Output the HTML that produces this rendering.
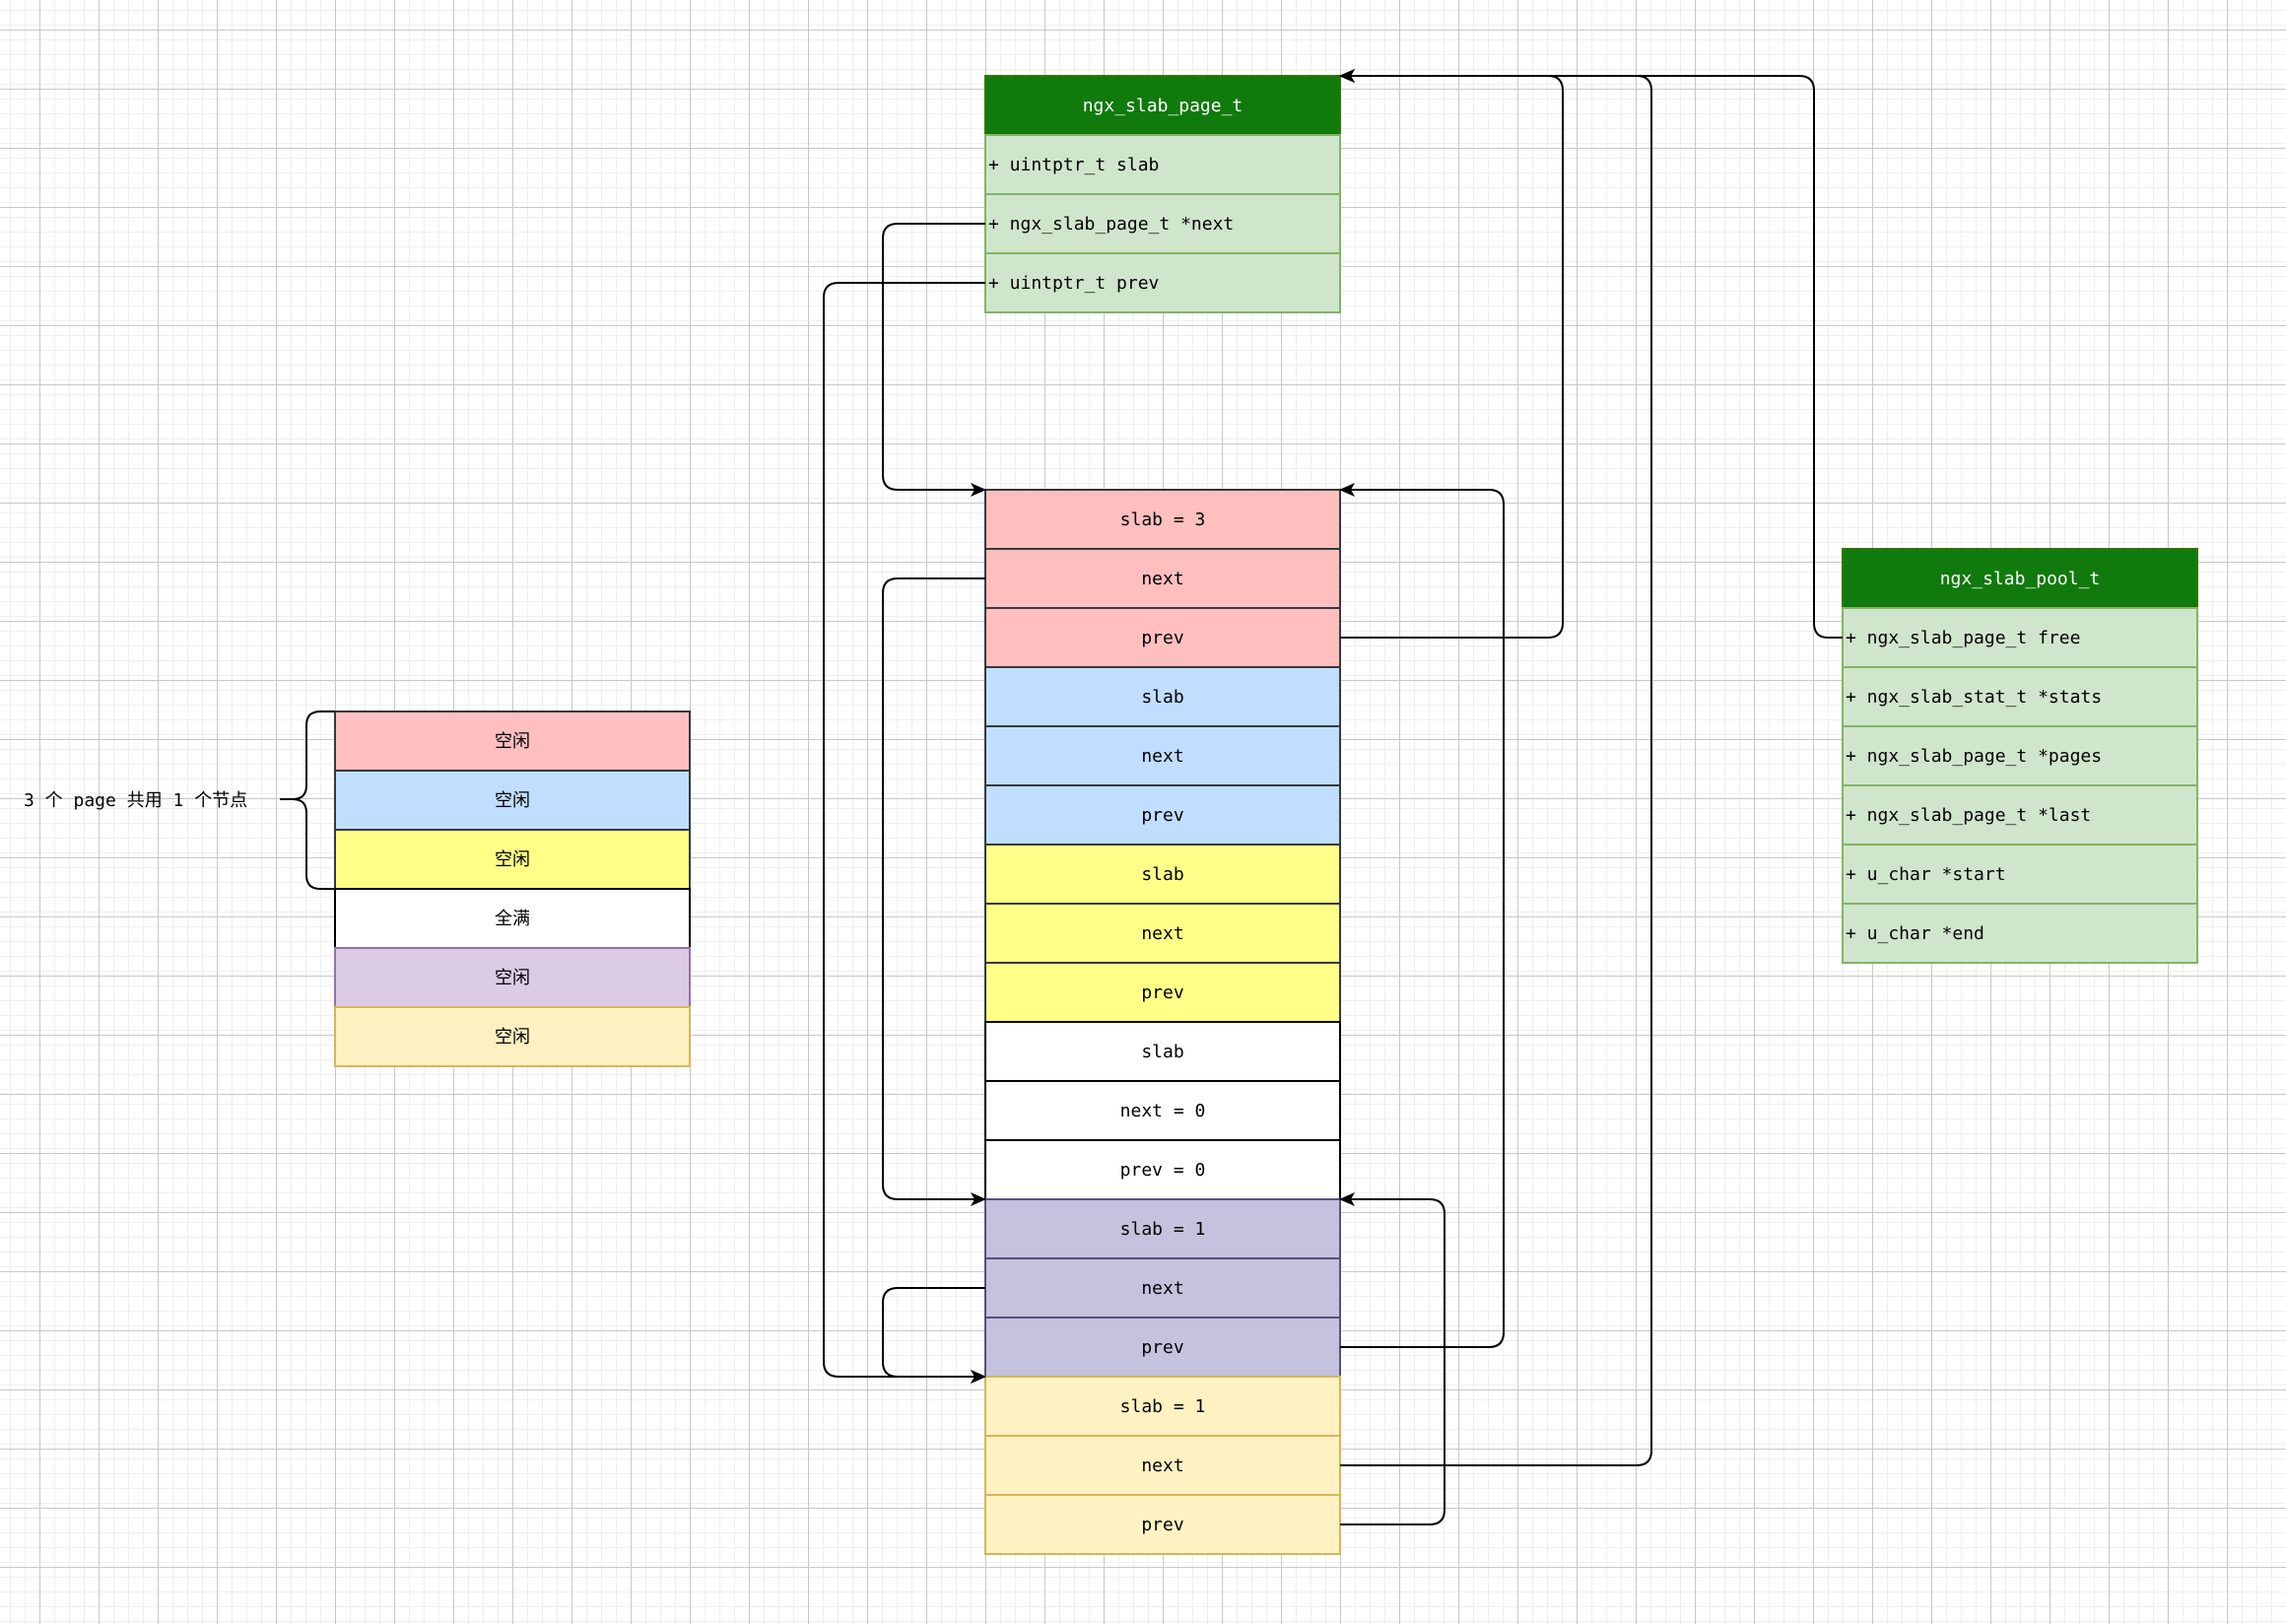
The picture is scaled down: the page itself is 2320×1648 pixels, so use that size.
<!DOCTYPE html>
<html><head><meta charset="utf-8"><style>
html,body{margin:0;padding:0;background:#fff;}
svg{display:block;}
text{font-family:"DejaVu Sans Mono","Liberation Mono","Noto Sans CJK SC",monospace;font-size:18px;}
</style></head><body>
<svg width="2320" height="1648" xmlns="http://www.w3.org/2000/svg">
<defs>
<pattern id="minor" x="10" y="10" width="15" height="15" patternUnits="userSpaceOnUse">
<path d="M0 0V15M0 0H15" stroke="#efefef" stroke-width="2" fill="none"/>
</pattern>
<pattern id="major" x="40" y="30" width="60" height="60" patternUnits="userSpaceOnUse">
<path d="M0.5 0V60M0 0.5H60" stroke="#c8c8c8" stroke-width="1" fill="none"/>
</pattern>
<marker id="ar" markerWidth="16" markerHeight="14" refX="15" refY="7" orient="auto" markerUnits="userSpaceOnUse">
<path d="M0 0 L16 7 L0 14 L4 7 Z" fill="#000"/>
</marker>
</defs>
<rect width="2320" height="1648" fill="url(#minor)"/>
<rect width="2320" height="1648" fill="url(#major)"/>

<g stroke="#82b366" stroke-width="2">
<rect x="1000" y="77" width="360" height="60" fill="#107a0c" stroke="#2d7600"/>
<rect x="1000" y="137" width="360" height="60" fill="#d0e6cc"/>
<rect x="1000" y="197" width="360" height="60" fill="#d0e6cc"/>
<rect x="1000" y="257" width="360" height="60" fill="#d0e6cc"/>
</g>
<text x="1180" y="113" fill="#fff" text-anchor="middle">ngx_slab_page_t</text>
<text x="1003" y="173">+ uintptr_t slab</text>
<text x="1003" y="233">+ ngx_slab_page_t *next</text>
<text x="1003" y="293">+ uintptr_t prev</text>

<g stroke="#82b366" stroke-width="2">
<rect x="1870" y="557" width="360" height="60" fill="#107a0c" stroke="#2d7600"/>
<rect x="1870" y="617" width="360" height="60" fill="#d0e6cc"/>
<rect x="1870" y="677" width="360" height="60" fill="#d0e6cc"/>
<rect x="1870" y="737" width="360" height="60" fill="#d0e6cc"/>
<rect x="1870" y="797" width="360" height="60" fill="#d0e6cc"/>
<rect x="1870" y="857" width="360" height="60" fill="#d0e6cc"/>
<rect x="1870" y="917" width="360" height="60" fill="#d0e6cc"/>
</g>
<text x="2050" y="593" fill="#fff" text-anchor="middle">ngx_slab_pool_t</text>
<text x="1873" y="653">+ ngx_slab_page_t free</text>
<text x="1873" y="713">+ ngx_slab_stat_t *stats</text>
<text x="1873" y="773">+ ngx_slab_page_t *pages</text>
<text x="1873" y="833">+ ngx_slab_page_t *last</text>
<text x="1873" y="893">+ u_char *start</text>
<text x="1873" y="953">+ u_char *end</text>

<g stroke-width="2">
<rect x="1000" y="497" width="360" height="60" fill="#ffbfbf" stroke="#36393d"/>
<rect x="1000" y="557" width="360" height="60" fill="#ffbfbf" stroke="#36393d"/>
<rect x="1000" y="617" width="360" height="60" fill="#ffbfbf" stroke="#36393d"/>
<rect x="1000" y="677" width="360" height="60" fill="#c0deff" stroke="#36393d"/>
<rect x="1000" y="737" width="360" height="60" fill="#c0deff" stroke="#36393d"/>
<rect x="1000" y="797" width="360" height="60" fill="#c0deff" stroke="#36393d"/>
<rect x="1000" y="857" width="360" height="60" fill="#ffff88" stroke="#36393d"/>
<rect x="1000" y="917" width="360" height="60" fill="#ffff88" stroke="#36393d"/>
<rect x="1000" y="977" width="360" height="60" fill="#ffff88" stroke="#36393d"/>
<rect x="1000" y="1037" width="360" height="60" fill="#ffffff" stroke="#000"/>
<rect x="1000" y="1097" width="360" height="60" fill="#ffffff" stroke="#000"/>
<rect x="1000" y="1157" width="360" height="60" fill="#ffffff" stroke="#000"/>
<rect x="1000" y="1217" width="360" height="60" fill="#c4c2dd" stroke="#56517e"/>
<rect x="1000" y="1277" width="360" height="60" fill="#c4c2dd" stroke="#56517e"/>
<rect x="1000" y="1337" width="360" height="60" fill="#c4c2dd" stroke="#56517e"/>
<rect x="1000" y="1397" width="360" height="60" fill="#fff2c2" stroke="#d6b656"/>
<rect x="1000" y="1457" width="360" height="60" fill="#fff2c2" stroke="#d6b656"/>
<rect x="1000" y="1517" width="360" height="60" fill="#fff2c2" stroke="#d6b656"/>
</g>
<g text-anchor="middle">
<text x="1180" y="533">slab = 3</text>
<text x="1180" y="593">next</text>
<text x="1180" y="653">prev</text>
<text x="1180" y="713">slab</text>
<text x="1180" y="773">next</text>
<text x="1180" y="833">prev</text>
<text x="1180" y="893">slab</text>
<text x="1180" y="953">next</text>
<text x="1180" y="1013">prev</text>
<text x="1180" y="1073">slab</text>
<text x="1180" y="1133">next = 0</text>
<text x="1180" y="1193">prev = 0</text>
<text x="1180" y="1253">slab = 1</text>
<text x="1180" y="1313">next</text>
<text x="1180" y="1373">prev</text>
<text x="1180" y="1433">slab = 1</text>
<text x="1180" y="1493">next</text>
<text x="1180" y="1553">prev</text>
</g>

<g stroke-width="2">
<rect x="340" y="722" width="360" height="60" fill="#ffbfbf" stroke="#36393d"/>
<rect x="340" y="782" width="360" height="60" fill="#c0deff" stroke="#36393d"/>
<rect x="340" y="842" width="360" height="60" fill="#ffff88" stroke="#36393d"/>
<rect x="340" y="902" width="360" height="60" fill="#ffffff" stroke="#000"/>
<rect x="340" y="962" width="360" height="60" fill="#dccbe4" stroke="#9673a6"/>
<rect x="340" y="1022" width="360" height="60" fill="#fff0c2" stroke="#d6b656"/>
</g>
<g text-anchor="middle">
<text x="520" y="758">空闲</text>
<text x="520" y="818">空闲</text>
<text x="520" y="878">空闲</text>
<text x="520" y="938">全满</text>
<text x="520" y="998">空闲</text>
<text x="520" y="1058">空闲</text>
</g>
<text x="24" y="818">3 个 page 共用 1 个节点</text>
<path d="M340 722 H325 Q311 722 311 736 V797 Q311 811 297 811 H284 M297 811 Q311 811 311 825 V888 Q311 902 325 902 H340" fill="none" stroke="#000" stroke-width="2"/>

<g fill="none" stroke="#000" stroke-width="2">
<path d="M1000 227 H911 Q896 227 896 242 V482 Q896 497 911 497 H1000" marker-end="url(#ar)"/>
<path d="M1000 287 H851 Q836 287 836 302 V1382 Q836 1397 851 1397 H1000" marker-end="url(#ar)"/>
<path d="M1000 587 H911 Q896 587 896 602 V1202 Q896 1217 911 1217 H1000" marker-end="url(#ar)"/>
<path d="M1000 1307 H911 Q896 1307 896 1322 V1382 Q896 1397 911 1397 H1000" marker-end="url(#ar)"/>
<path d="M1360 647 H1571 Q1586 647 1586 632 V92 Q1586 77 1571 77 H1360" marker-end="url(#ar)"/>
<path d="M1870 647 H1855 Q1841 647 1841 632 V92 Q1841 77 1826 77 H1360" marker-end="url(#ar)"/>
<path d="M1360 1487 H1661 Q1676 1487 1676 1472 V92 Q1676 77 1661 77 H1360" marker-end="url(#ar)"/>
<path d="M1360 1367 H1511 Q1526 1367 1526 1352 V512 Q1526 497 1511 497 H1360" marker-end="url(#ar)"/>
<path d="M1360 1547 H1451 Q1466 1547 1466 1532 V1232 Q1466 1217 1451 1217 H1360" marker-end="url(#ar)"/>
</g>
</svg>
</body></html>
